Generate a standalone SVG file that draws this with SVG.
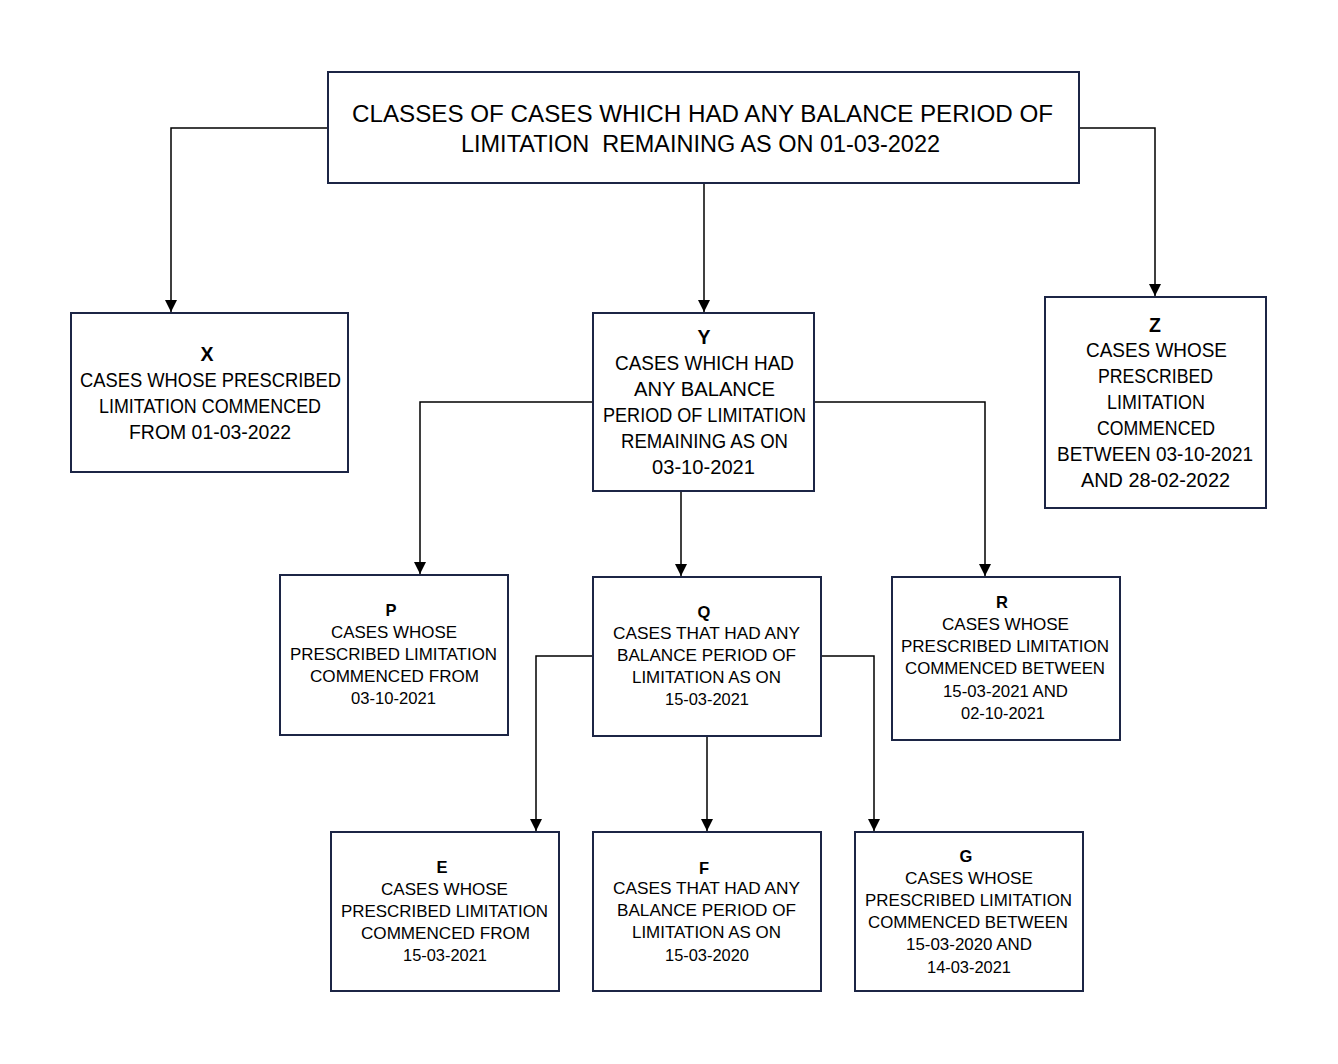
<svg xmlns="http://www.w3.org/2000/svg" width="1338" height="1064" viewBox="0 0 1338 1064">
<style>
.box{fill:#fff;stroke:#1c2545;stroke-width:2}
.ln{fill:none;stroke:#000;stroke-width:1.5}
text{font-family:"Liberation Sans",Arial,sans-serif;fill:#000;text-anchor:middle}
.t0{font-size:23px}
.t1{font-size:19.5px}
.t2{font-size:16.5px}
.b{font-weight:bold}
</style>
<defs>
<marker id="ah" markerWidth="12" markerHeight="12" refX="10" refY="5" orient="auto" markerUnits="userSpaceOnUse" viewBox="0 0 10 10">
<path d="M0,0 L10,5 L0,10 z" fill="#000"/>
</marker>
</defs>
<rect width="1338" height="1064" fill="#fff"/>
<g id="connectors">
<path class="ln" d="M328,128 H171 V312" marker-end="url(#ah)"/>
<path class="ln" d="M704,183 V312" marker-end="url(#ah)"/>
<path class="ln" d="M1079,128 H1155 V296" marker-end="url(#ah)"/>
<path class="ln" d="M593,402 H420 V574" marker-end="url(#ah)"/>
<path class="ln" d="M681,491 V576" marker-end="url(#ah)"/>
<path class="ln" d="M814,402 H985 V576" marker-end="url(#ah)"/>
<path class="ln" d="M593,656 H536 V831" marker-end="url(#ah)"/>
<path class="ln" d="M707,736 V831" marker-end="url(#ah)"/>
<path class="ln" d="M821,656 H874 V831" marker-end="url(#ah)"/>
</g>
<g id="top">
<rect class="box" x="328" y="72" width="751" height="111"/>
<text class="t0" x="702.5" y="122" textLength="701" lengthAdjust="spacingAndGlyphs">CLASSES OF CASES WHICH HAD ANY BALANCE PERIOD OF</text>
<text class="t0" x="700.5" y="152" textLength="479" lengthAdjust="spacingAndGlyphs" xml:space="preserve">LIMITATION  REMAINING AS ON 01-03-2022</text>
</g>
<g id="nodeX">
<rect class="box" x="71" y="313" width="277" height="159"/>
<text class="t1 b" x="207" y="361">X</text>
<text class="t1" x="210.5" y="387" textLength="261" lengthAdjust="spacingAndGlyphs">CASES WHOSE PRESCRIBED</text>
<text class="t1" x="210" y="413" textLength="222" lengthAdjust="spacingAndGlyphs">LIMITATION COMMENCED</text>
<text class="t1" x="210" y="439" textLength="162" lengthAdjust="spacingAndGlyphs">FROM 01-03-2022</text>
</g>
<g id="nodeY">
<rect class="box" x="593" y="313" width="221" height="178"/>
<text class="t1 b" x="704" y="344">Y</text>
<text class="t1" x="704.5" y="370" textLength="179" lengthAdjust="spacingAndGlyphs">CASES WHICH HAD</text>
<text class="t1" x="704.5" y="396" textLength="141" lengthAdjust="spacingAndGlyphs">ANY BALANCE</text>
<text class="t1" x="704.5" y="422" textLength="203" lengthAdjust="spacingAndGlyphs">PERIOD OF LIMITATION</text>
<text class="t1" x="704.5" y="448" textLength="167" lengthAdjust="spacingAndGlyphs">REMAINING AS ON</text>
<text class="t1" x="703.5" y="474" textLength="103" lengthAdjust="spacingAndGlyphs">03-10-2021</text>
</g>
<g id="nodeZ">
<rect class="box" x="1045" y="297" width="221" height="211"/>
<text class="t1 b" x="1155" y="332">Z</text>
<text class="t1" x="1156.5" y="357" textLength="141" lengthAdjust="spacingAndGlyphs">CASES WHOSE</text>
<text class="t1" x="1155.5" y="383" textLength="115" lengthAdjust="spacingAndGlyphs">PRESCRIBED</text>
<text class="t1" x="1156" y="409" textLength="98" lengthAdjust="spacingAndGlyphs">LIMITATION</text>
<text class="t1" x="1156" y="435" textLength="118" lengthAdjust="spacingAndGlyphs">COMMENCED</text>
<text class="t1" x="1155" y="461" textLength="196" lengthAdjust="spacingAndGlyphs">BETWEEN 03-10-2021</text>
<text class="t1" x="1155.5" y="487" textLength="149" lengthAdjust="spacingAndGlyphs">AND 28-02-2022</text>
</g>
<g id="nodeP">
<rect class="box" x="280" y="575" width="228" height="160"/>
<text class="t2 b" x="391" y="616">P</text>
<text class="t2" x="394" y="638" textLength="126" lengthAdjust="spacingAndGlyphs">CASES WHOSE</text>
<text class="t2" x="393.5" y="660" textLength="207" lengthAdjust="spacingAndGlyphs">PRESCRIBED LIMITATION</text>
<text class="t2" x="394.5" y="682" textLength="169" lengthAdjust="spacingAndGlyphs">COMMENCED FROM</text>
<text class="t2" x="393.5" y="704" textLength="85" lengthAdjust="spacingAndGlyphs">03-10-2021</text>
</g>
<g id="nodeQ">
<rect class="box" x="593" y="577" width="228" height="159"/>
<text class="t2 b" x="704" y="618">Q</text>
<text class="t2" x="706.5" y="639" textLength="187" lengthAdjust="spacingAndGlyphs">CASES THAT HAD ANY</text>
<text class="t2" x="706.5" y="661" textLength="179" lengthAdjust="spacingAndGlyphs">BALANCE PERIOD OF</text>
<text class="t2" x="706.5" y="683" textLength="149" lengthAdjust="spacingAndGlyphs">LIMITATION AS ON</text>
<text class="t2" x="707" y="705" textLength="84" lengthAdjust="spacingAndGlyphs">15-03-2021</text>
</g>
<g id="nodeR">
<rect class="box" x="892" y="577" width="228" height="163"/>
<text class="t2 b" x="1002" y="608">R</text>
<text class="t2" x="1005.5" y="630" textLength="127" lengthAdjust="spacingAndGlyphs">CASES WHOSE</text>
<text class="t2" x="1005" y="652" textLength="208" lengthAdjust="spacingAndGlyphs">PRESCRIBED LIMITATION</text>
<text class="t2" x="1005" y="674" textLength="200" lengthAdjust="spacingAndGlyphs">COMMENCED BETWEEN</text>
<text class="t2" x="1005.5" y="697" textLength="125" lengthAdjust="spacingAndGlyphs">15-03-2021 AND</text>
<text class="t2" x="1003" y="719" textLength="84" lengthAdjust="spacingAndGlyphs">02-10-2021</text>
</g>
<g id="nodeE">
<rect class="box" x="331" y="832" width="228" height="159"/>
<text class="t2 b" x="442" y="873">E</text>
<text class="t2" x="444.5" y="895" textLength="127" lengthAdjust="spacingAndGlyphs">CASES WHOSE</text>
<text class="t2" x="444.5" y="917" textLength="207" lengthAdjust="spacingAndGlyphs">PRESCRIBED LIMITATION</text>
<text class="t2" x="445.5" y="939" textLength="169" lengthAdjust="spacingAndGlyphs">COMMENCED FROM</text>
<text class="t2" x="445" y="961" textLength="84" lengthAdjust="spacingAndGlyphs">15-03-2021</text>
</g>
<g id="nodeF">
<rect class="box" x="593" y="832" width="228" height="159"/>
<text class="t2 b" x="704" y="874">F</text>
<text class="t2" x="706.5" y="894" textLength="187" lengthAdjust="spacingAndGlyphs">CASES THAT HAD ANY</text>
<text class="t2" x="706.5" y="916" textLength="179" lengthAdjust="spacingAndGlyphs">BALANCE PERIOD OF</text>
<text class="t2" x="706.5" y="938" textLength="149" lengthAdjust="spacingAndGlyphs">LIMITATION AS ON</text>
<text class="t2" x="707" y="961" textLength="84" lengthAdjust="spacingAndGlyphs">15-03-2020</text>
</g>
<g id="nodeG">
<rect class="box" x="855" y="832" width="228" height="159"/>
<text class="t2 b" x="966" y="862">G</text>
<text class="t2" x="969" y="884" textLength="128" lengthAdjust="spacingAndGlyphs">CASES WHOSE</text>
<text class="t2" x="968.5" y="906" textLength="207" lengthAdjust="spacingAndGlyphs">PRESCRIBED LIMITATION</text>
<text class="t2" x="968" y="928" textLength="200" lengthAdjust="spacingAndGlyphs">COMMENCED BETWEEN</text>
<text class="t2" x="969" y="950" textLength="126" lengthAdjust="spacingAndGlyphs">15-03-2020 AND</text>
<text class="t2" x="969" y="973" textLength="84" lengthAdjust="spacingAndGlyphs">14-03-2021</text>
</g>
</svg>
